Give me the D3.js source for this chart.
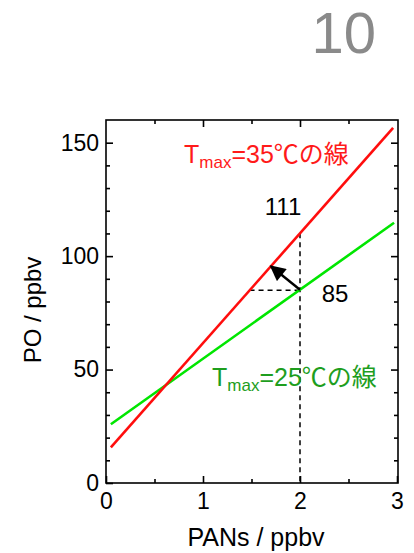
<!DOCTYPE html>
<html>
<head>
<meta charset="utf-8">
<script src="https://cdn.jsdelivr.net/npm/d3@7"></script>
<style>
  body { margin: 0; background: #fff; }
  svg { display: block; }
  text { font-family: "Liberation Sans", Arial, "Noto Sans CJK JP", sans-serif; }
</style>
</head>
<body>
<div id="chart"></div>
<script>
const width = 414;
const height = 553;

// Data
const panEnds = [0.05, 2.96];      // PANs range of the red line
const red35 = [15.7, 156.5];       // PO at those PANs, Tmax = 35C
const greenEnds = [0.05, 2.97];
const green25 = [25.9, 114.7];     // PO, Tmax = 25C
const xTicks = [0, 1, 2, 3];
const xMinor = [0.5, 1.5, 2.5];
const yTicks = [0, 50, 100, 150];
const yMinor = [10, 20, 30, 40, 60, 70, 80, 90, 110, 120, 130, 140];
const markX = 2;
const markGreen = 85;
const markRed = 111;
const arrowTo = 1.70;   // where the arrow meets the red line
const dashFrom = 1.48;  // start of horizontal dashed line

const x = d3.scaleLinear().domain([0, 3]).range([106, 397]);
const y = d3.scaleLinear().domain([0, 160]).range([483, 120]);

// helper for line values
const redAt = v => red35[0] + (red35[1] - red35[0]) * (v - panEnds[0]) / (panEnds[1] - panEnds[0]);
const greenAt = v => green25[0] + (green25[1] - green25[0]) * (v - greenEnds[0]) / (greenEnds[1] - greenEnds[0]);

const svg = d3.select("#chart").append("svg")
  .attr("width", width)
  .attr("height", height);

svg.append("rect").attr("width", width).attr("height", height).attr("fill", "#fff");

// page number
svg.append("text")
  .attr("x", 376).attr("y", 53)
  .attr("text-anchor", "end")
  .attr("font-size", 58)
  .attr("fill", "#8a8a8a")
  .text("10");

const defs = svg.append("defs");
defs.append("marker")
  .attr("id", "head")
  .attr("viewBox", "0 0 10 10")
  .attr("refX", 9).attr("refY", 5)
  .attr("markerWidth", 7).attr("markerHeight", 6.5)
  .attr("markerUnits", "strokeWidth")
  .attr("orient", "auto")
  .append("path")
  .attr("d", "M0,0 L10,5 L0,10 Z")
  .attr("fill", "#000");

// frame
svg.append("rect")
  .attr("x", x(0)).attr("y", y(160))
  .attr("width", 398 - x(0)).attr("height", y(0) - y(160))
  .attr("fill", "none").attr("stroke", "#000").attr("stroke-width", 1.6);

function styleAxis(g) {
  g.select(".domain").remove();
  g.selectAll(".tick line").attr("stroke", "#000").attr("stroke-width", 1.6);
  g.selectAll("text").attr("font-size", 23).attr("fill", "#000")
    .attr("font-family", "'Liberation Sans', Arial, sans-serif");
}

// bottom
svg.append("g").attr("transform", `translate(0,${y(0)})`)
  .call(d3.axisBottom(x).tickValues(xTicks).tickFormat(d3.format("d"))
    .tickSizeInner(-7).tickSizeOuter(0).tickPadding(10))
  .call(styleAxis);
svg.append("g").attr("transform", `translate(0,${y(0)})`)
  .call(d3.axisBottom(x).tickValues(xMinor).tickFormat("").tickSizeInner(-4).tickSizeOuter(0))
  .call(styleAxis);
// top mirror
svg.append("g").attr("transform", `translate(0,${y(160)})`)
  .call(d3.axisTop(x).tickValues(xTicks.slice(1, 3)).tickFormat("").tickSizeInner(-7).tickSizeOuter(0))
  .call(styleAxis);
svg.append("g").attr("transform", `translate(0,${y(160)})`)
  .call(d3.axisTop(x).tickValues(xMinor).tickFormat("").tickSizeInner(-4).tickSizeOuter(0))
  .call(styleAxis);
// left
svg.append("g").attr("transform", `translate(${x(0)},0)`)
  .call(d3.axisLeft(y).tickValues(yTicks).tickFormat(d3.format("d"))
    .tickSizeInner(-7).tickSizeOuter(0).tickPadding(7))
  .call(styleAxis);
svg.append("g").attr("transform", `translate(${x(0)},0)`)
  .call(d3.axisLeft(y).tickValues(yMinor).tickFormat("").tickSizeInner(-4).tickSizeOuter(0))
  .call(styleAxis);
// right mirror
svg.append("g").attr("transform", `translate(398,0)`)
  .call(d3.axisRight(y).tickValues(yTicks.slice(1)).tickFormat("").tickSizeInner(-7).tickSizeOuter(0))
  .call(styleAxis);
svg.append("g").attr("transform", `translate(398,0)`)
  .call(d3.axisRight(y).tickValues(yMinor).tickFormat("").tickSizeInner(-4).tickSizeOuter(0))
  .call(styleAxis);

// axis titles
svg.append("text")
  .attr("x", 256).attr("y", 546)
  .attr("text-anchor", "middle")
  .attr("font-size", 25)
  .text("PANs / ppbv");
svg.append("text")
  .attr("transform", `translate(41,${310}) rotate(-90)`)
  .attr("text-anchor", "middle")
  .attr("font-size", 24)
  .text("PO / ppbv");

// dashed guides
svg.append("line")
  .attr("x1", x(markX)).attr("x2", x(markX))
  .attr("y1", y(redAt(markX))).attr("y2", y(0))
  .attr("stroke", "#000").attr("stroke-width", 1.5).attr("stroke-dasharray", "5,4");
svg.append("line")
  .attr("x1", x(dashFrom)).attr("x2", x(markX))
  .attr("y1", y(markGreen)).attr("y2", y(markGreen))
  .attr("stroke", "#000").attr("stroke-width", 1.5).attr("stroke-dasharray", "5,4");

// lines
const line = d3.line().x(d => x(d[0])).y(d => y(d[1]));
svg.append("path")
  .datum(greenEnds.map((v, i) => [v, green25[i]]))
  .attr("d", line)
  .attr("fill", "none").attr("stroke", "#00e600").attr("stroke-width", 2.6);
svg.append("path")
  .datum(panEnds.map((v, i) => [v, red35[i]]))
  .attr("d", line)
  .attr("fill", "none").attr("stroke", "#ff0d0d").attr("stroke-width", 2.6);

// arrow
svg.append("line")
  .attr("x1", x(markX)).attr("y1", y(greenAt(markX)))
  .attr("x2", x(arrowTo)).attr("y2", y(redAt(arrowTo)))
  .attr("stroke", "#000").attr("stroke-width", 2.4)
  .attr("marker-end", "url(#head)");

// value labels
svg.append("text").attr("x", 283).attr("y", 215).attr("text-anchor", "middle")
  .attr("font-size", 24).text(markRed);
svg.append("text").attr("x", 335).attr("y", 302).attr("text-anchor", "middle")
  .attr("font-size", 24).text(markGreen);

// curve labels
function tlabel(tx, ty, color, rest) {
  const t = svg.append("text").attr("x", tx).attr("y", ty)
    .attr("font-size", 25).attr("fill", color);
  t.append("tspan").text("T");
  t.append("tspan").attr("font-size", 17).attr("dy", 5).text("max");
  t.append("tspan").attr("dy", -5).text(rest);
}
tlabel(184, 163, "#ff1a1a", "=35℃の線");
tlabel(212, 386, "#1e9e1e", "=25℃の線");
</script>
</body>
</html>
